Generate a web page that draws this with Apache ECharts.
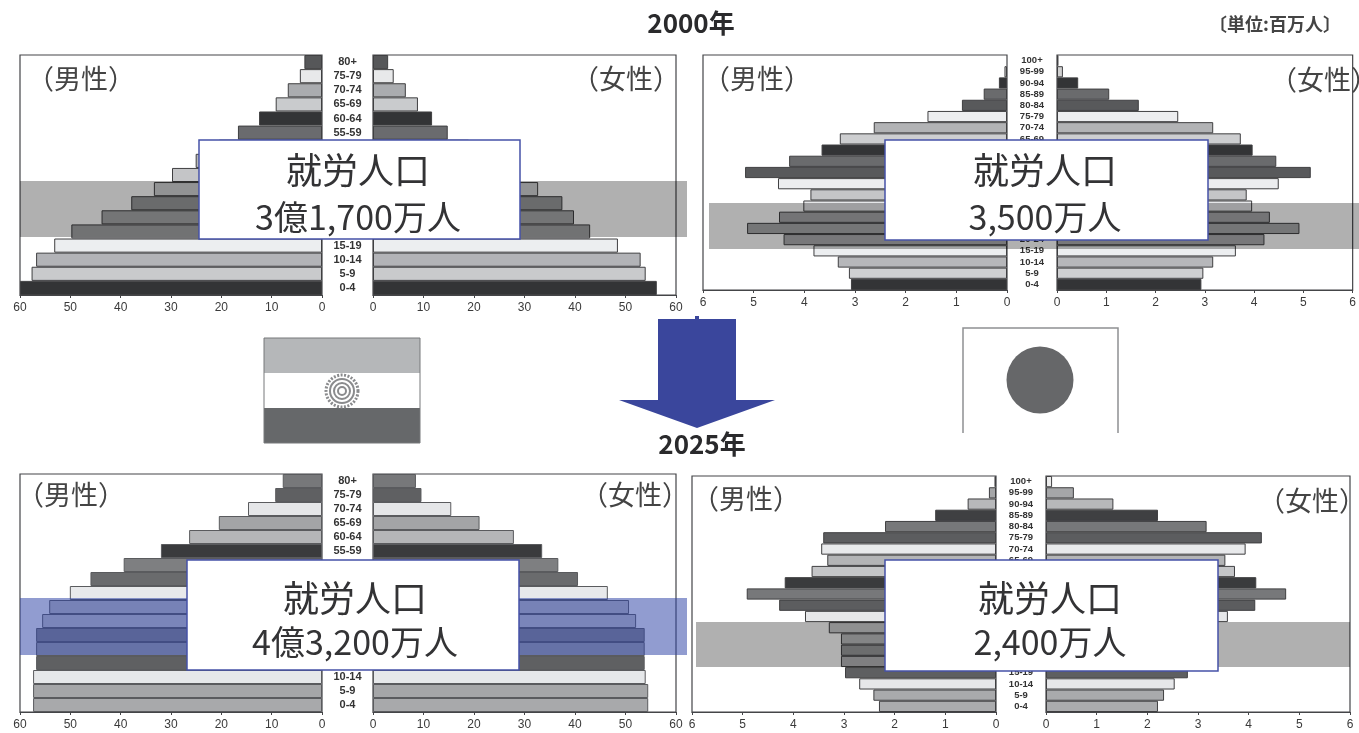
<!DOCTYPE html>
<html lang="ja">
<head>
<meta charset="utf-8">
<title>就労人口 2000年・2025年</title>
<script src="https://cdn.jsdelivr.net/npm/echarts@6/dist/echarts.min.js"></script>
<style>
html,body{margin:0;padding:0;background:#fff}
#chart{width:1359px;height:733px}
</style>
</head>
<body>
<div id="chart"></div>
<script>
// Age groups, oldest at the top
const agesIndia = ['80+','75-79','70-74','65-69','60-64','55-59','50-54','45-49','40-44','35-39','30-34','25-29','20-24','15-19','10-14','5-9','0-4'];
const agesJapan = ['100+','95-99','90-94','85-89','80-84','75-79','70-74','65-69','60-64','55-59','50-54','45-49','40-44','35-39','30-34','25-29','20-24','15-19','10-14','5-9','0-4'];

// Population by age group, millions
const india2000Male   = [3.5,4.4,6.8,9.2,12.5,16.7,20.5,25.1,29.8,33.4,37.9,43.8,49.8,53.2,56.8,57.7,60];
const india2000Female = [3,4.1,6.5,8.9,11.7,14.8,19,23,28,32.7,37.5,39.8,43,48.5,53,54,56.2];
const india2025Male   = [7.8,9.3,14.7,20.5,26.4,32,39.4,46,50.1,54.2,55.6,56.8,56.8,56.8,57.4,57.4,57.4];
const india2025Female = [8.5,9.6,15.5,21.1,27.9,33.5,36.7,40.6,46.5,50.7,52.1,53.8,53.8,53.8,54,54.5,54.5];
const japan2000Male   = [0,0.05,0.16,0.46,0.89,1.57,2.63,3.3,3.66,4.3,5.17,4.52,3.88,4.02,4.5,5.13,4.41,3.82,3.34,3.12,3.08];
const japan2000Female = [0.03,0.12,0.43,1.06,1.66,2.46,3.17,3.73,3.97,4.45,5.15,4.5,3.85,3.96,4.32,4.92,4.21,3.63,3.17,2.97,2.93];
const japan2025Male   = [0.03,0.14,0.56,1.2,2.19,3.41,3.45,3.33,3.64,4.17,4.92,4.28,3.77,3.3,3.06,3.06,3.06,2.98,2.7,2.42,2.31];
const japan2025Female = [0.12,0.55,1.33,2.21,3.17,4.26,3.94,3.54,3.73,4.15,4.74,4.13,3.59,3.37,3.3,3.25,3.2,2.8,2.54,2.33,2.21];

// Axis scale ticks
const indiaMax = 60, indiaStep = 10;
const japanMax = 6, japanStep = 1;

// Grey tones of the age bands
const toneIndia2000 = ['#565759','#e8e9ea','#aaacaf','#c9cbcd','#333436','#6a6b6e','#8f9093','#b7b8ba','#c4c5c7','#d4d5d7','#9a9b9d','#a9aaac','#a4a5a7','#eceef0','#b2b3b7','#c9cacc','#333436'];
const toneIndia2025 = ['#77787a','#5f6062','#e5e6e8','#a3a4a6','#b5b6b8','#3a3b3d','#7e7f81','#6a6b6d','#e8e9eb','#c8c9cb','#cfd0d2','#8a8b8d','#a6a7a9','#5f6062','#e6e8ea','#a5a6a8','#a8a9ab'];
const toneJapan2000 = ['#f0f0f0','#d0d0d0','#333436','#6a6b6d','#58595b','#ecedef','#b2b3b5','#cdced0','#333436','#6a6b6d','#58595b','#ecedef','#c4c5c7','#e6e7e9','#a8a9ab','#aaabad','#aeafb1','#eceef0','#b6b7ba','#cfd0d2','#333436'];
const toneJapan2025 = ['#ececec','#a5a6a8','#b7b8ba','#3f4042','#77787a','#5c5d5f','#e8e9eb','#b3b4b6','#c4c5c7','#3a3b3d','#77787a','#5c5d5f','#e6e7e9','#d0d1d3','#c0c1c3','#9d9ea0','#b8b9bb','#5e5f61','#e6e7e9','#a9aaac','#abacae'];

const CJK = '"Noto Sans CJK JP","Liberation Sans",sans-serif';
const INK = '#333335';

// Panel geometry: male plot, female plot, vertical extent
const panels = [
  {maleL:20, maleW:302, femL:373, femW:303, top:55, h:240, ages:agesIndia, male:india2000Male, female:india2000Female, tone:toneIndia2000, max:indiaMax, step:indiaStep, ageFont:11, edge:'#3f3f41'},
  {maleL:703,maleW:304, femL:1057,femW:301, top:55, h:235, ages:agesJapan, male:japan2000Male, female:japan2000Female, tone:toneJapan2000, max:japanMax, step:japanStep, ageFont:9.5, edge:'#3f3f41'},
  {maleL:20, maleW:302, femL:373, femW:303, top:474,h:238, ages:agesIndia, male:india2025Male, female:india2025Female, tone:toneIndia2025, max:indiaMax, step:indiaStep, ageFont:11, edge:'#5a5b5e'},
  {maleL:692,maleW:304, femL:1046,femW:304, top:476,h:236, ages:agesJapan, male:japan2025Male, female:japan2025Female, tone:toneJapan2025, max:japanMax, step:japanStep, ageFont:9.5, edge:'#3f3f41'}
];

const grid = [], xAxis = [], yAxis = [], series = [];
panels.forEach((p) => {
  [
    {left:p.maleL, width:p.maleW, inverse:true,  values:p.male,   labels:false},
    {left:p.femL,  width:p.femW,  inverse:false, values:p.female, labels:true}
  ].forEach((side) => {
    const i = grid.length;
    grid.push({left:side.left, width:side.width, top:p.top, height:p.h, show:true,
      borderColor:'#444548', borderWidth:1.2, backgroundColor:'#fff'});
    xAxis.push({type:'value', gridIndex:i, min:0, max:p.max, interval:p.step, inverse:side.inverse,
      splitLine:{show:false},
      axisLine:{show:true, lineStyle:{color:'#444548', width:1.2}},
      axisTick:{show:true, length:3, lineStyle:{color:'#444548'}},
      axisLabel:{color:'#3a3a3a', fontSize:12, margin:7, fontFamily:'"Liberation Sans",sans-serif', showMinLabel:true, showMaxLabel:true}});
    yAxis.push({type:'category', gridIndex:i, data:p.ages, inverse:true,
      axisLine:{show:false}, axisTick:{show:false},
      axisLabel: side.labels
        ? {show:true, interval:0, align:'center', margin:(p.femL-p.maleL-p.maleW)/2,
           fontSize:p.ageFont, fontWeight:'bold', color:'#333', fontFamily:'"Liberation Sans",sans-serif'}
        : {show:false}});
    series.push({type:'bar', xAxisIndex:i, yAxisIndex:i, barCategoryGap:0, silent:true, animation:false,
      data: side.values.map((v, k) => ({value:v, itemStyle:{color:p.tone[k], borderColor:p.edge, borderWidth:v>0?1:0}}))});
  });
});

// Callouts, working-age bands and the pictorial marks between the rows
function band(x, y, w, h, fill){
  return {type:'rect', z:50, silent:true, shape:{x, y, width:w, height:h}, style:{fill}};
}
function callout(x, y, w, h, leadX, leadY, figureY, figure){
  return [
    {type:'rect', z:60, shape:{x, y, width:w, height:h}, style:{fill:'#fff', stroke:'#4552a8', lineWidth:1.5}},
    {type:'text', z:61, x:leadX, y:leadY, style:{text:'就労人口', font:'400 36px '+CJK, fill:INK, align:'center', verticalAlign:'middle'}},
    {type:'text', z:61, x:leadX, y:figureY, style:{text:figure, font:'400 34px '+CJK, fill:INK, align:'center', verticalAlign:'middle'}}
  ];
}
function caption(x, y, text){
  return {type:'text', z:40, x, y, style:{text, font:'400 27px '+CJK, fill:'#444', align:'center', verticalAlign:'middle'}};
}

const wheelRings = [16,12,8,4].map((r) => ({type:'circle', z:20, shape:{cx:342, cy:391, r},
  style:{fill:'none', stroke:'#8a8b8d', lineWidth:r===16?3:2, lineDash:r===16?[2,1.5]:null}}));

const graphic = [
  {type:'text', x:691, y:23, style:{text:'2000年', font:'700 26px '+CJK, fill:'#2a2a2c', align:'center', verticalAlign:'middle'}},
  {type:'text', x:1275, y:24, style:{text:'〔単位:百万人〕', font:'700 18px '+CJK, fill:'#444', align:'center', verticalAlign:'middle'}},
  {type:'text', x:702, y:444, style:{text:'2025年', font:'700 26px '+CJK, fill:'#2a2a2c', align:'center', verticalAlign:'middle'}},

  caption(81,79,'（男性）'), caption(626,79,'（女性）'),
  caption(757,79,'（男性）'), caption(1324,80,'（女性）'),
  caption(71,495,'（男性）'), caption(635,495,'（女性）'),
  caption(746,499,'（男性）'), caption(1312,501,'（女性）'),

  band(20,181,667,56,'rgba(0,0,0,0.31)'),
  band(709,203,650,46,'rgba(0,0,0,0.31)'),
  band(20,598,667,57,'rgba(45,65,165,0.52)'),
  band(696,622,654,45,'rgba(0,0,0,0.31)'),

  ...callout(199,140,321,99,358,170,217,'3億1,700万人'),
  ...callout(885,140,323,100,1045,170,217,'3,500万人'),
  ...callout(187,560,332,110,355,598,642,'4億3,200万人'),
  ...callout(885,560,333,111,1050,598,642,'2,400万人'),

  // Tricolour
  {type:'rect', shape:{x:264,y:338,width:156,height:35}, style:{fill:'#b5b7b9'}},
  {type:'rect', shape:{x:264,y:373,width:156,height:35}, style:{fill:'#fff'}},
  {type:'rect', shape:{x:264,y:408,width:156,height:35}, style:{fill:'#66686a'}},
  {type:'rect', shape:{x:264,y:338,width:156,height:105}, style:{fill:'none', stroke:'#77787a', lineWidth:1}},
  ...wheelRings,

  // Hinomaru
  {type:'polyline', shape:{points:[[963,433],[963,328],[1118,328],[1118,433]]}, style:{fill:'none', stroke:'#8f9092', lineWidth:1.5}},
  {type:'circle', shape:{cx:1040,cy:380,r:33.5}, style:{fill:'#666769'}},

  // Downward arrow between the two years
  {type:'polygon', shape:{points:[[695,316],[699,316],[699,319],[736,319],[736,400],[775,400],[697,428],[619,400],[658,400],[658,319],[695,319]]}, style:{fill:'#3a469c'}}
];

const chart = echarts.init(document.getElementById('chart'), null, {renderer:'canvas'});
chart.setOption({animation:false, backgroundColor:'#fff', grid, xAxis, yAxis, series, graphic});
</script>
</body>
</html>
